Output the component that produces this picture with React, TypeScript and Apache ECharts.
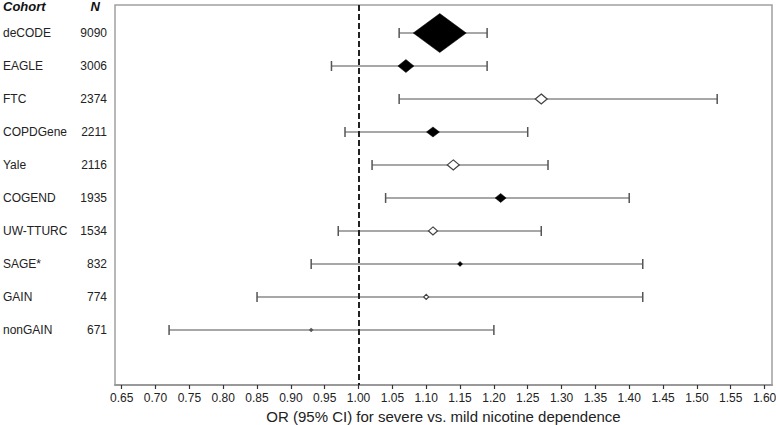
import React, { useEffect, useRef } from "react";
import * as echarts from "echarts";

const cohorts = ["deCODE", "EAGLE", "FTC", "COPDGene", "Yale", "COGEND", "UW-TTURC", "SAGE*", "GAIN", "nonGAIN"];
const sampleN = ["9090", "3006", "2374", "2211", "2116", "1935", "1534", "832", "774", "671"];
const oddsRatio = [1.12, 1.07, 1.27, 1.11, 1.14, 1.21, 1.11, 1.15, 1.10, 0.93];
const ciLow = [1.06, 0.96, 1.06, 0.98, 1.02, 1.04, 0.97, 0.93, 0.85, 0.72];
const ciHigh = [1.19, 1.19, 1.53, 1.25, 1.28, 1.40, 1.27, 1.42, 1.42, 1.20];
const xTicks = [0.65, 0.7, 0.75, 0.8, 0.85, 0.9, 0.95, 1.0, 1.05, 1.1, 1.15, 1.2, 1.25, 1.3, 1.35, 1.4, 1.45, 1.5, 1.55, 1.6];
const refLine = 1.0;
const xTitle = "OR (95% CI) for severe vs. mild nicotine dependence";

// styling lists (marker appearance per cohort)
const markerSize: [number, number][] = [
  [53, 39], [16, 13], [12, 10], [13, 10], [12, 10], [11, 9], [9, 8], [5, 5], [5, 5], [4, 4],
];
const markerFilled = [true, true, false, true, false, true, false, true, false, true];

const FONT = 'Arial, "Liberation Sans", sans-serif';

export default function App() {
  const ref = useRef<HTMLDivElement>(null);
  useEffect(() => {
    if (!ref.current) return;
    const chart = echarts.init(ref.current, null, { renderer: "svg" });
    const ciData = cohorts.map((_, i) => [ciLow[i], ciHigh[i], i]);
    const pointData = cohorts.map((_, i) => ({
      value: [oddsRatio[i], i],
      symbolSize: markerSize[i],
      itemStyle: markerFilled[i]
        ? { color: i === 9 ? "#555" : "#000", borderColor: i === 9 ? "#555" : "#000", borderWidth: 0.5, opacity: 1 }
        : { color: "#fff", borderColor: "#444", borderWidth: 1.2, opacity: 1 },
    }));
    chart.setOption({
      animation: false,
      textStyle: { fontFamily: FONT },
      grid: {
        left: 115,
        top: 5,
        right: 4,
        bottom: 40,
        show: true,
        borderColor: "#a0a0a0",
        borderWidth: 1.5,
        containLabel: false,
        outerBoundsMode: "none",
      },
      graphic: [
        {
          type: "text",
          left: 3,
          top: 0,
          style: { text: "Cohort", font: `italic bold 13px ${FONT}`, fill: "#111" },
        },
        {
          type: "text",
          x: 100,
          y: 0,
          style: { text: "N", font: `italic bold 13px ${FONT}`, fill: "#111", textAlign: "right" },
        },
      ],
      xAxis: {
        type: "value",
        min: 0.6401,
        max: 1.611,
        splitLine: { show: false },
        axisLine: { show: true, onZero: false, lineStyle: { color: "#999", width: 2 } },
        axisTick: {
          show: true,
          customValues: xTicks,
          length: 4,
          inside: false,
          lineStyle: { color: "#333", width: 1.2 },
        },
        axisLabel: {
          customValues: xTicks,
          formatter: (v: number) => v.toFixed(2),
          color: "#222",
          fontSize: 12,
          margin: 7,
          fontFamily: FONT,
        },
        name: xTitle,
        nameLocation: "middle",
        nameGap: 22,
        nameTextStyle: { fontSize: 15, color: "#222", fontFamily: FONT },
      },
      yAxis: {
        type: "value",
        inverse: true,
        min: -0.85,
        max: 10.67,
        splitLine: { show: false },
        axisLine: { show: false, onZero: false },
        axisTick: { show: false },
        axisLabel: {
          customValues: cohorts.map((_, i) => i),
          margin: 8,
          formatter: (v: number) => `{a|${cohorts[v]}}{b|${sampleN[v]}}`,
          rich: {
            a: { width: 74, align: "left", fontSize: 12, color: "#222", fontFamily: FONT },
            b: { width: 30, align: "right", fontSize: 12, color: "#222", fontFamily: FONT },
          },
        },
      },
      series: [
        {
          type: "custom",
          data: ciData,
          encode: { x: [0, 1], y: 2 },
          z: 2,
          renderItem: (params: any, api: any) => {
            const lo = api.coord([api.value(0), api.value(2)]);
            const hi = api.coord([api.value(1), api.value(2)]);
            const cap = 5;
            return {
              type: "group",
              children: [
                {
                  type: "line",
                  shape: { x1: lo[0], y1: lo[1], x2: hi[0], y2: hi[1] },
                  style: { stroke: "#8a8a8a", lineWidth: 1.5 },
                },
                {
                  type: "line",
                  shape: { x1: lo[0], y1: lo[1] - cap, x2: lo[0], y2: lo[1] + cap },
                  style: { stroke: "#555", lineWidth: 1.5 },
                },
                {
                  type: "line",
                  shape: { x1: hi[0], y1: hi[1] - cap, x2: hi[0], y2: hi[1] + cap },
                  style: { stroke: "#555", lineWidth: 1.5 },
                },
              ],
            };
          },
        },
        {
          type: "scatter",
          symbol: "diamond",
          data: pointData,
          z: 4,
          markLine: {
            silent: true,
            symbol: ["none", "none"],
            label: { show: false },
            lineStyle: { color: "#222", width: 2, type: [6, 3] },
            data: [{ xAxis: refLine }],
            z: 3,
          },
        },
      ],
    });
    return () => chart.dispose();
  }, []);
  return (
    <div
      ref={ref}
      style={{ position: "fixed", left: 0, top: 0, width: 776, height: 425, background: "#fff" }}
    />
  );
}
